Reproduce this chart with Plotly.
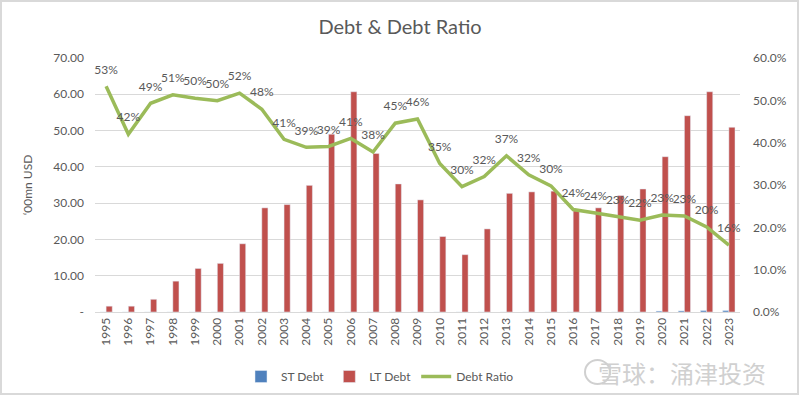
import plotly.graph_objects as go

years = [str(y) for y in range(1995, 2024)]
st_debt = [0]*25 + [0.25, 0.3, 0.4, 0.4]
lt_debt = [1.6, 1.6, 3.5, 8.5, 12.0, 13.4, 18.8, 28.7, 29.6, 34.9, 49.0, 60.7, 43.7,
           35.3, 30.9, 20.8, 15.8, 22.9, 32.7, 33.1, 33.3, 27.9, 28.7, 32.1, 33.9,
           42.8, 54.1, 60.7, 50.9]
debt_ratio = [53.3, 42.0, 49.3, 51.3, 50.5, 49.9, 51.7, 47.9, 40.8, 38.9, 39.1, 41.0, 37.8,
              44.6, 45.6, 35.1, 29.6, 32.0, 36.9, 32.4, 29.8, 24.2, 23.4, 22.6, 21.7,
              22.9, 22.7, 20.1, 15.8]
ratio_labels = ["53%", "42%", "49%", "51%", "50%", "50%", "52%", "48%", "41%", "39%", "39%",
                "41%", "38%", "45%", "46%", "35%", "30%", "32%", "37%", "32%", "30%", "24%",
                "24%", "23%", "22%", "23%", "23%", "20%", "16%"]
left_ticks = [0, 10, 20, 30, 40, 50, 60, 70]
left_tick_text = ["-", "10.00", "20.00", "30.00", "40.00", "50.00", "60.00", "70.00"]
right_ticks = [0, 10, 20, 30, 40, 50, 60]
right_tick_text = ["0.0%", "10.0%", "20.0%", "30.0%", "40.0%", "50.0%", "60.0%"]

GRAY = "#595959"
FONT = "Lato"

W, H = 800, 396
ML, MR, MT, MB = 95, 60, 58, 84
PW, PH = W - ML - MR, H - MT - MB


def px(x):
    return (x - ML) / PW


def py(y):
    return (H - MB - y) / PH


fig = go.Figure()
fig.add_trace(go.Bar(x=years, y=st_debt, name="ST Debt", marker_color="#4F81BD"))
fig.add_trace(go.Bar(x=years, y=lt_debt, name="LT Debt", marker_color="#C0504D"))
fig.add_trace(go.Scatter(
    x=years, y=debt_ratio, name="Debt Ratio", yaxis="y2",
    mode="lines+markers+text", text=ratio_labels, textposition="top center",
    textfont=dict(size=12, color=GRAY, family=FONT),
    line=dict(color="#9BBB59", width=3.5),
    marker=dict(size=14, color="rgba(0,0,0,0)"),
    cliponaxis=False,
))

fig.update_layout(
    width=W, height=H,
    margin=dict(l=ML, r=MR, t=MT, b=MB, autoexpand=False),
    paper_bgcolor="white", plot_bgcolor="white",
    font=dict(family=FONT, color=GRAY, size=12),
    title=dict(text="Debt & Debt Ratio", x=0.5, xanchor="center", y=1 - 27 / H, yanchor="middle",
               font=dict(size=20, color=GRAY, family=FONT)),
    barmode="group", bargap=0.45, bargroupgap=0,
    xaxis=dict(type="category", range=[-0.5, len(years) - 0.5], tickangle=-90,
               tickfont=dict(size=12, color=GRAY),
               showgrid=False, showline=True, linecolor="#D9D9D9", ticks="", automargin=False),
    yaxis=dict(range=[0, 70], tickvals=left_ticks, ticktext=left_tick_text,
               gridcolor="#D9D9D9", zeroline=False, tickfont=dict(size=12, color=GRAY),
               title=dict(text="‘00mn USD", font=dict(size=12, color=GRAY), standoff=18),
               ticklabelstandoff=10, automargin=False),
    yaxis2=dict(range=[0, 60], tickvals=right_ticks, ticktext=right_tick_text,
                overlaying="y", side="right", showgrid=False, zeroline=False,
                tickfont=dict(size=12, color=GRAY), ticklabelstandoff=12, automargin=False),
    legend=dict(orientation="h", x=px(380), xanchor="center", y=py(362), yanchor="top",
                font=dict(size=12, color=GRAY), traceorder="normal"),
    showlegend=True,
)

fig.add_annotation(text="雪球：涌津投资", xref="paper", yref="paper", x=px(768), y=py(372),
                   xanchor="right", yanchor="middle", showarrow=False,
                   font=dict(size=24, color="#D0D0D0", family="Noto Sans CJK SC"))
fig.add_shape(type="circle", xref="paper", yref="paper", x0=px(585), x1=px(610),
              y0=py(384), y1=py(360), line=dict(color="#D0D0D0", width=2))
fig.add_shape(type="rect", xref="paper", yref="paper", x0=px(1), x1=px(798),
              y0=py(394), y1=py(1), line=dict(color="#D9D9D9", width=2))

fig.write_html("out.html", config={"displayModeBar": False},
               post_script="document.body.style.margin='0px';")
